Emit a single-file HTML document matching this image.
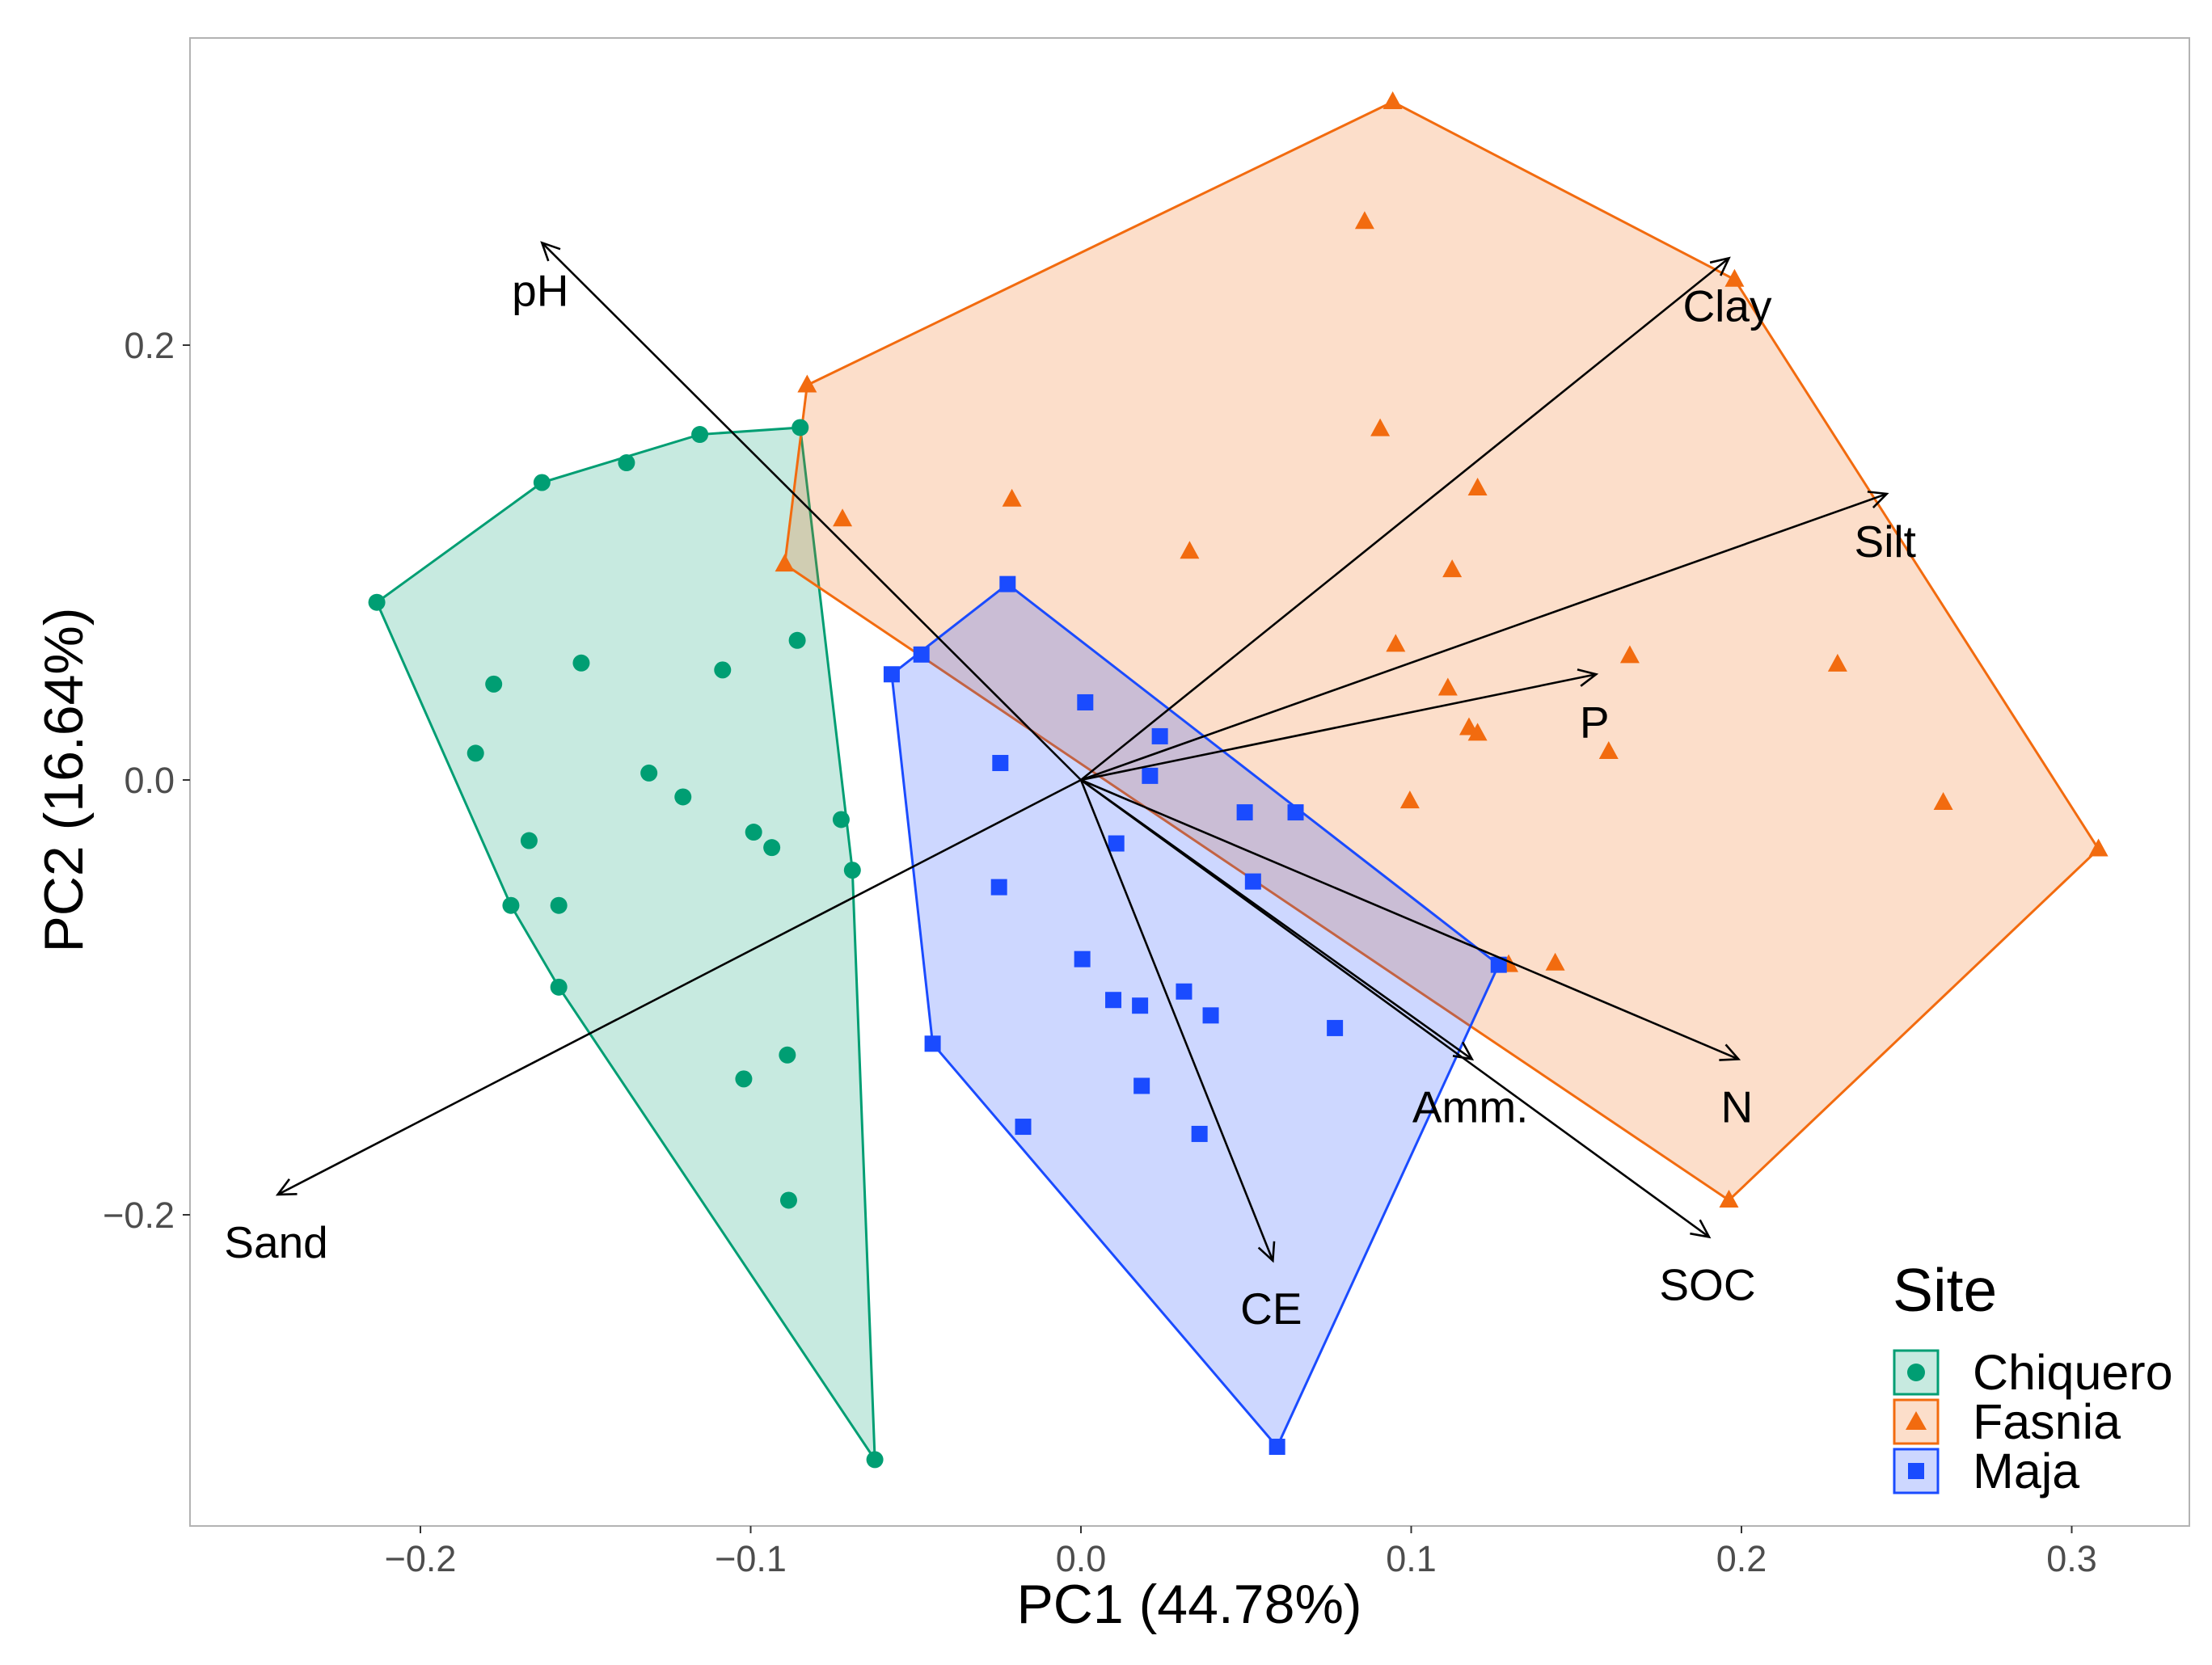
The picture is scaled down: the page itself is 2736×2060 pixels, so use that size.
<!DOCTYPE html>
<html><head><meta charset="utf-8"><style>
html,body{margin:0;padding:0;background:#fff;}
svg{display:block;font-family:"Liberation Sans",sans-serif;}
</style></head><body>
<svg id="chart" width="2736" height="2060" viewBox="0 0 2736 2060" xmlns="http://www.w3.org/2000/svg">
<rect x="0" y="0" width="2736" height="2060" fill="#fff"/>
<g id="hulls"></g><g id="points"></g><g id="arrows"></g><g id="axes"></g>
</svg>
<script>
const xTicks=[-0.2,-0.1,0.0,0.1,0.2,0.3];
const xTickLabels=["\u22120.2","\u22120.1","0.0","0.1","0.2","0.3"];
const yTicks=[0.2,0.0,-0.2];
const yTickLabels=["0.2","0.0","\u22120.2"];
const chiqueroX=[-0.2132,-0.1632,-0.1376,-0.1154,-0.0850,-0.1778,-0.1513,-0.1085,-0.0859,-0.1833,-0.1308,-0.1205,-0.1671,-0.0991,-0.0936,-0.0726,-0.0692,-0.1726,-0.1581,-0.1581,-0.0889,-0.1021,-0.0885,-0.0624];
const chiqueroY=[0.0817,0.1368,0.1459,0.1589,0.1621,0.0441,0.0538,0.0506,0.0642,0.0123,0.0032,-0.0078,-0.0279,-0.0240,-0.0311,-0.0182,-0.0415,-0.0577,-0.0577,-0.0953,-0.1265,-0.1375,-0.1933,-0.3126];
const fasniaX=[0.0944,0.0859,0.1979,-0.0829,0.0906,-0.0209,0.1201,-0.0722,0.0329,-0.0897,0.1124,0.0953,0.1662,0.2291,0.1111,0.1175,0.1201,0.1598,0.0996,0.2611,0.3081,0.1295,0.1436,0.1962];
const fasniaY=[0.3119,0.2568,0.2302,0.1816,0.1615,0.1291,0.1342,0.1200,0.1051,0.0992,0.0966,0.0623,0.0571,0.0532,0.0422,0.0240,0.0214,0.0130,-0.0097,-0.0104,-0.0318,-0.0850,-0.0843,-0.1933];
const majaX=[-0.0222,-0.0483,-0.0573,0.0013,0.0239,-0.0244,0.0209,0.0496,0.0650,0.0107,0.0521,-0.0248,0.0004,0.0312,0.0098,0.0179,0.0393,0.0769,0.1265,-0.0449,0.0184,-0.0175,0.0359,0.0594];
const majaY=[0.0901,0.0577,0.0486,0.0357,0.0201,0.0078,0.0019,-0.0149,-0.0149,-0.0292,-0.0467,-0.0493,-0.0824,-0.0973,-0.1012,-0.1038,-0.1083,-0.1141,-0.0850,-0.1213,-0.1407,-0.1595,-0.1628,-0.3067];
const varNames=["pH","Clay","Silt","P","N","Amm.","SOC","CE","Sand"];
const varX=[-0.1632,0.1962,0.2440,0.1560,0.1991,0.1184,0.1902,0.0581,-0.2432];
const varY=[0.2471,0.2400,0.1316,0.0486,-0.1284,-0.1284,-0.2102,-0.2211,-0.1907];

const NS="http://www.w3.org/2000/svg";
const X=v=>1337+v*4085;
const Y=v=>965-v*2690;
function mk(tag,attrs,parent){const e=document.createElementNS(NS,tag);for(const k in attrs)e.setAttribute(k,attrs[k]);parent.appendChild(e);return e;}
function hull(pts){pts=pts.slice().sort((a,b)=>a[0]-b[0]||a[1]-b[1]);const cr=(o,a,b)=>(a[0]-o[0])*(b[1]-o[1])-(a[1]-o[1])*(b[0]-o[0]);const lo=[],up=[];for(const p of pts){while(lo.length>=2&&cr(lo[lo.length-2],lo[lo.length-1],p)<=0)lo.pop();lo.push(p);}for(const p of pts.slice().reverse()){while(up.length>=2&&cr(up[up.length-2],up[up.length-1],p)<=0)up.pop();up.push(p);}return lo.slice(0,-1).concat(up.slice(0,-1));}
const groups=[
 {name:"chiquero",xs:chiqueroX,ys:chiqueroY,col:"#009E73",shape:"circle"},
 {name:"fasnia",xs:fasniaX,ys:fasniaY,col:"#F26B0F",shape:"triangle"},
 {name:"maja",xs:majaX,ys:majaY,col:"#1A4BFF",shape:"square"}];
const gH=document.getElementById('hulls'),gP=document.getElementById('points'),gA=document.getElementById('arrows'),gX=document.getElementById('axes');
function marker(shape,cx,cy,col,parent){let e;
 if(shape==="circle")e=mk('circle',{cx:cx,cy:cy,r:10.5,fill:col},parent);
 else if(shape==="square")e=mk('rect',{x:cx-10,y:cy-10,width:20,height:20,fill:col},parent);
 else e=mk('polygon',{points:`${cx},${cy-13} ${cx+12},${cy+9} ${cx-12},${cy+9}`,fill:col},parent);
 return e;}
groups.forEach(g=>{
 const pts=g.xs.map((v,i)=>[X(v),Y(g.ys[i])]);
 const h=hull(pts);
 const poly=mk('polygon',{points:h.map(p=>p.join(',')).join(' '),fill:g.col,'fill-opacity':0.22,stroke:g.col,'stroke-width':3},gH);
 
 
});
groups.forEach(g=>{
 g.xs.forEach((v,i)=>{const e=marker(g.shape,X(v),Y(g.ys[i]),g.col,gP);
  
  });
});
const ox=X(0),oy=Y(0);
varNames.forEach((n,i)=>{
 const tx=X(varX[i]),ty=Y(varY[i]);
 const ln=mk('line',{x1:ox,y1:oy,x2:tx,y2:ty,stroke:'#000','stroke-width':2.6},gA);
 
 
 const a=Math.atan2(ty-oy,tx-ox),L=24,sp=0.45;
 const hd=mk('polyline',{points:`${tx-L*Math.cos(a-sp)},${ty-L*Math.sin(a-sp)} ${tx},${ty} ${tx-L*Math.cos(a+sp)},${ty-L*Math.sin(a+sp)}`,fill:'none',stroke:'#000','stroke-width':2.6},gA);
 
 
 const t=mk('text',{x:tx-2,y:ty+78,'text-anchor':'middle','font-size':55,fill:'#000'},gA);
 t.textContent=n;
 
 
});
const pb=mk('rect',{x:235,y:47,width:2473,height:1841,fill:'none',stroke:'#b3b3b3','stroke-width':2},gX);


xTicks.forEach((v,i)=>{
 mk('line',{x1:X(v),y1:1888,x2:X(v),y2:1897,stroke:'#333','stroke-width':2},gX);
 const t=mk('text',{x:X(v),y:1944,'text-anchor':'middle','font-size':45,fill:'#4d4d4d'},gX);
 t.textContent=xTickLabels[i];
 
 
});
yTicks.forEach((v,i)=>{
 mk('line',{x1:226,y1:Y(v),x2:235,y2:Y(v),stroke:'#333','stroke-width':2},gX);
 const t=mk('text',{x:216,y:Y(v)+16,'text-anchor':'end','font-size':45,fill:'#4d4d4d'},gX);
 t.textContent=yTickLabels[i];
 
 
});
</script>
<svg style="position:absolute;left:0;top:0" width="2736" height="2060">
<text x="1471" y="2008" text-anchor="middle" font-size="68" font-family="Liberation Sans, sans-serif">PC1 (44.78%)</text>
<text transform="translate(102,965) rotate(-90)" text-anchor="middle" font-size="68" font-family="Liberation Sans, sans-serif">PC2 (16.64%)</text>
<g font-family="Liberation Sans, sans-serif">
<text x="2341" y="1622" font-size="75">Site</text>
<g>
<rect x="2343" y="1671" width="54" height="54" fill="#009E73" fill-opacity="0.22" stroke="#009E73" stroke-width="3"/>
<circle cx="2370" cy="1698" r="11" fill="#009E73"/>
<text x="2440" y="1719" font-size="61">Chiquero</text></g>
<g>
<rect x="2343" y="1732" width="54" height="54" fill="#F26B0F" fill-opacity="0.22" stroke="#F26B0F" stroke-width="3"/>
<polygon points="2370,1746 2383,1769 2357,1769" fill="#F26B0F"/>
<text x="2440" y="1780" font-size="61">Fasnia</text></g>
<g>
<rect x="2343" y="1793" width="54" height="54" fill="#1A4BFF" fill-opacity="0.22" stroke="#1A4BFF" stroke-width="3"/>
<rect x="2360" y="1810" width="20" height="20" fill="#1A4BFF"/>
<text x="2440" y="1841" font-size="61">Maja</text></g>
</g>
</svg>
</body></html>
